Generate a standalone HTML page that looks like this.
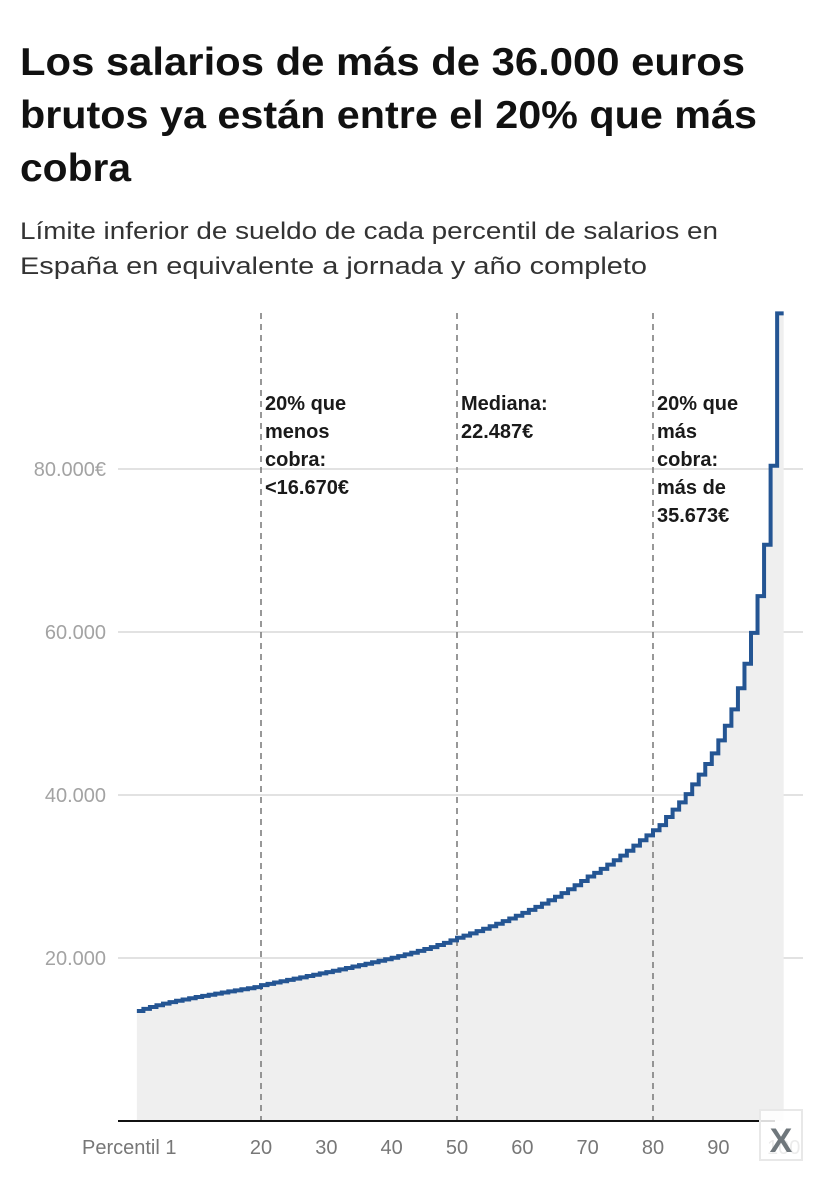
<!DOCTYPE html>
<html><head><meta charset="utf-8"><style>
body{margin:0;width:828px;height:1192px;background:#fff;font-family:"Liberation Sans",sans-serif;overflow:hidden;position:relative}
svg{position:absolute;left:0;top:0}
</style></head><body>
<svg id="c" width="828" height="1192">
<g font-size="39" font-weight="bold" fill="#111">
<text x="20" y="75" textLength="725" lengthAdjust="spacingAndGlyphs">Los salarios de más de 36.000 euros</text>
<text x="20" y="128" textLength="737" lengthAdjust="spacingAndGlyphs">brutos ya están entre el 20% que más</text>
<text x="20" y="181" textLength="111" lengthAdjust="spacingAndGlyphs">cobra</text>
</g>
<g font-size="24" fill="#333">
<text x="20" y="239" textLength="698" lengthAdjust="spacingAndGlyphs">Límite inferior de sueldo de cada percentil de salarios en</text>
<text x="20" y="274" textLength="627" lengthAdjust="spacingAndGlyphs">España en equivalente a jornada y año completo</text>
</g>
</svg>
<script>
const values=[13500,13760,13990,14200,14400,14580,14750,14910,15060,15210,15350,15490,15630,15770,15900,16030,16160,16290,16420,16670,
16830,16990,17150,17310,17470,17630,17790,17950,18110,18270,18440,18610,18780,18950,19120,19300,19480,19660,19840,20030,
20230,20440,20650,20870,21100,21340,21590,21850,22160,22487,
22750,23020,23300,23590,23890,24200,24520,24850,25190,25540,
25900,26280,26670,27080,27510,27960,28430,28930,29450,30000,
30450,30930,31450,31990,32560,33160,33790,34450,35040,35673,
36300,37300,38200,39100,40100,41300,42500,43800,45100,46700,48500,50500,53100,56100,59900,64400,70700,80400,99100];
const yTicks=[20000,40000,60000,80000];
const yTickLabels=["20.000","40.000","60.000","80.000€"];
const xTicks=[20,30,40,50,60,70,80,90,100];
const xTickLabels=["20","30","40","50","60","70","80","90","100"];
const markers=[20,50,80];
const markerLines=[["20% que","menos","cobra:","<16.670€"],["Mediana:","22.487€"],["20% que","más","cobra:","más de","35.673€"]];
const NS="http://www.w3.org/2000/svg";
const svg=document.getElementById('c');
const X=p=>261+(p-20)*196/30;
const Y=v=>1121-v*163/20000;
function el(t,a,txt){const e=document.createElementNS(NS,t);for(const k in a)e.setAttribute(k,a[k]);if(txt!=null)e.textContent=txt;svg.appendChild(e);return e;}
yTicks.forEach((v,i)=>{
 const g=el('line',{x1:118,x2:803,y1:Y(v),y2:Y(v),stroke:'#e2e2e2','stroke-width':2});
 
 
 const t=el('text',{x:106,y:Y(v)+7,'text-anchor':'end','font-size':20,fill:'#a3a3a3'},yTickLabels[i]);
 
 
});
let d='M'+X(1)+','+Y(values[0]);
values.forEach((v,i)=>{const p=i+1;if(i>0)d+=' V'+Y(v);d+=' H'+X(p+1);});
const area=el('path',{d:d+' V1121 H'+X(1)+' Z',fill:'#efefef'});


markers.forEach((m,i)=>{
 const l=el('line',{x1:X(m),x2:X(m),y1:313,y2:1121,stroke:'#777','stroke-width':1.5,'stroke-dasharray':'6,5'});
 
 
 markerLines[i].forEach((s,j)=>{
  const t=el('text',{x:X(m)+4,y:410+j*28,'font-size':20,'font-weight':'bold',fill:'#1a1a1a'},s);
  
  
 });
});
const line=el('path',{d:d,fill:'none',stroke:'#245593','stroke-width':4});


const base=el('line',{x1:118,x2:775,y1:1121,y2:1121,stroke:'#111','stroke-width':2});


const p1=el('text',{x:82,y:1154,'font-size':20,fill:'#777'},'Percentil 1');


xTicks.forEach((p,i)=>{
 const t=el('text',{x:X(p),y:1154,'text-anchor':'middle','font-size':20,fill:'#777'},xTickLabels[i]);
 
 
});
const box=el('rect',{x:760,y:1110,width:42,height:50,fill:'rgba(255,255,255,0.85)',stroke:'#e8e8e8','stroke-width':2});


const lg=el('text',{x:781,y:1152,'text-anchor':'middle','font-size':34,'font-weight':'bold',fill:'#6f777c'},'X');


</script>
</body></html>
